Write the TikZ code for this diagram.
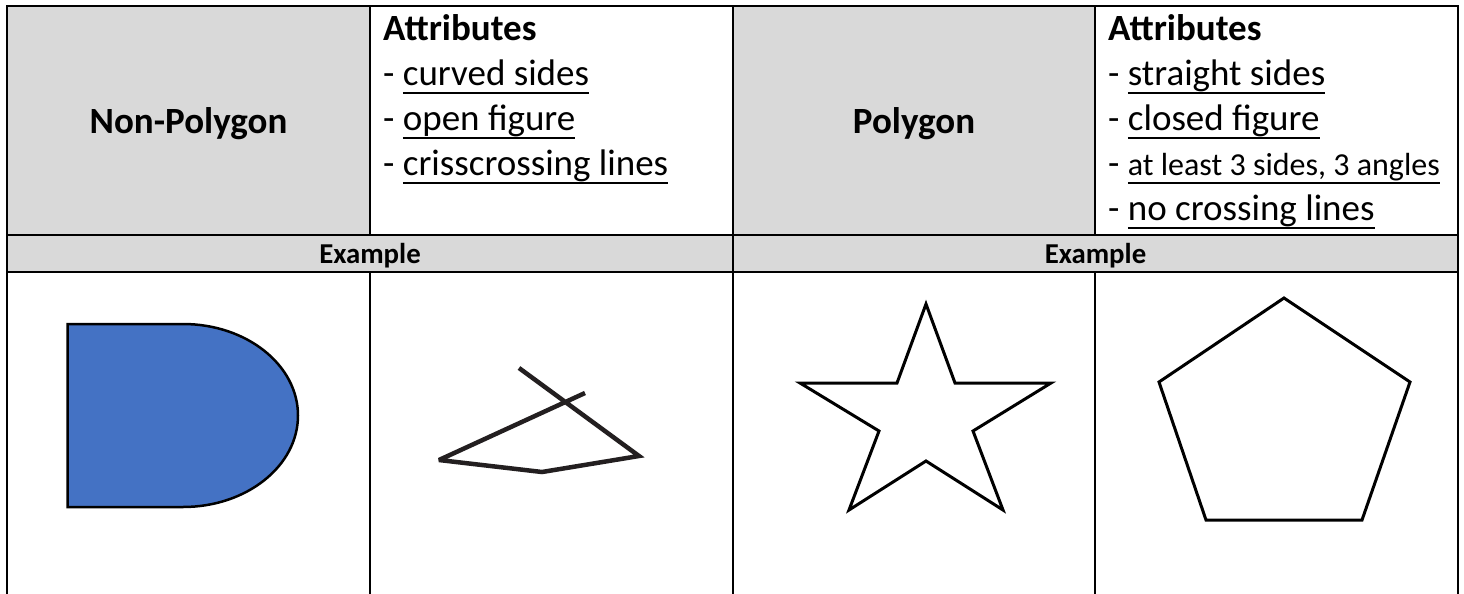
\documentclass[tikz,border=0pt]{standalone}
\usepackage{fontspec}
\setmainfont{Carlito}
\definecolor{hdrgray}{HTML}{D9D9D9}
\definecolor{dblue}{HTML}{4472C4}
\definecolor{inkline}{HTML}{231F20}
\newsavebox\ulbox
\newcommand{\ulin}[1]{\sbox\ulbox{#1}\rlap{\rule[-8pt]{\wd\ulbox}{2pt}}\usebox\ulbox}
\tikzset{
  grid/.style={line width=1.8pt, line cap=rect},
  hdrtext/.style={inner sep=0pt, anchor=base, font=\fontsize{37}{45}\selectfont\bfseries},
  extext/.style={inner sep=0pt, anchor=base, font=\fontsize{28.8}{35}\selectfont\bfseries},
  attrhead/.style={inner sep=0pt, anchor=base west, font=\fontsize{37}{45}\selectfont\bfseries},
  attritem/.style={inner sep=0pt, anchor=base west, font=\fontsize{37}{45}\selectfont},
  shapeline/.style={line width=3pt, line join=miter, black}
}
\begin{document}
\begin{tikzpicture}[x=1pt,y=-1pt]
\useasboundingbox (0,0) rectangle (1464,594);
% fills
\fill[hdrgray] (7,6) rectangle (370,235);
\fill[hdrgray] (733,6) rectangle (1095,235);
\fill[hdrgray] (7,235) rectangle (1458,272);
% grid
\draw[grid] (7,6) -- (1458,6);
\draw[grid] (7,235) -- (1458,235);
\draw[grid] (7,272) -- (1458,272);
\draw[grid] (7,6) -- (7,594);
\draw[grid] (1458,6) -- (1458,594);
\draw[grid] (733,6) -- (733,594);
\draw[grid] (370,6) -- (370,235);
\draw[grid] (370,272) -- (370,594);
\draw[grid] (1095,6) -- (1095,235);
\draw[grid] (1095,272) -- (1095,594);
% header texts
\node[hdrtext] (np) at (188.5,133) {Non-Polygon};
\node[hdrtext] (pg) at (914,133) {Polygon};
\node[attrhead] (a1) at (383,40.5) {Attributes};
\node[attritem] (a1l1) at (383,85.6) {- \ulin{curved sides}};
\node[attritem] (a1l2) at (383,130.7) {- \ulin{open figure}};
\node[attritem] (a1l3) at (383,175.8) {- \ulin{crisscrossing lines}};
\node[attrhead] (a2) at (1108,40.5) {Attributes};
\node[attritem] (a2l1) at (1108,85.6) {- \ulin{straight sides}};
\node[attritem] (a2l2) at (1108,130.7) {- \ulin{closed figure}};
\node[attritem] (a2l3) at (1108,175.8) {- {\fontsize{32}{39}\selectfont\ulin{at least 3 sides, 3 angles}}};
\node[attritem] (a2l4) at (1108,220.9) {- \ulin{no crossing lines}};
\node[extext] (ex1) at (370,263.5) {Example};
\node[extext] (ex2) at (1095.5,263.5) {Example};
% D shape (non-polygon, curved side)
\draw[fill=dblue, line width=2.5pt, line join=miter] (67.5,324) -- (183,324)
  arc[start angle=90, end angle=-90, x radius=115pt, y radius=91.5pt] -- (67.5,507) -- cycle;
% crisscrossing open figure
\draw[inkline, line width=4.5pt, line join=miter, miter limit=3] (519,368) -- (639,456) -- (542,472) -- (439,460) -- (585,393);
% star
\draw[shapeline] (926,304) -- (955,383) -- (1051,383) -- (973,431) -- (1003,510) -- (926,461)
  -- (849,510) -- (879,431) -- (800,383) -- (897,383) -- cycle;
% pentagon
\draw[shapeline] (1284,298) -- (1410,382) -- (1362,520) -- (1206,520) -- (1159,382) -- cycle;
\end{tikzpicture}
\end{document}
